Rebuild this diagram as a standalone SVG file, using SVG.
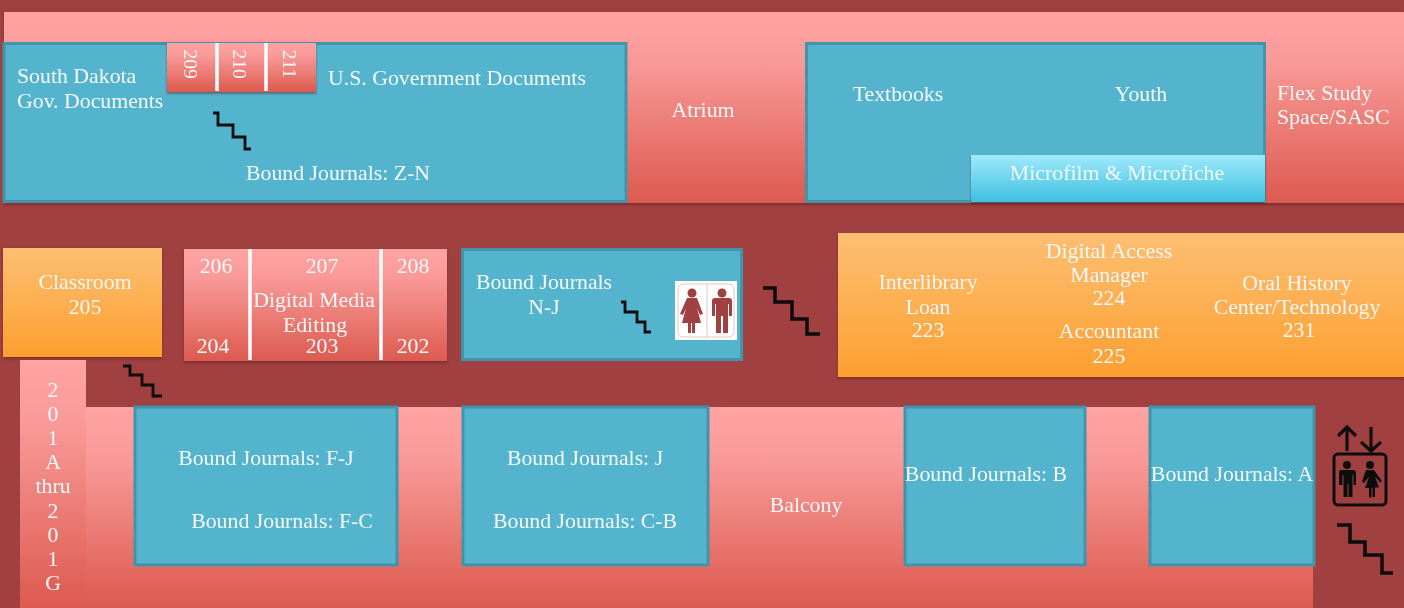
<svg xmlns="http://www.w3.org/2000/svg" width="1404" height="608" viewBox="0 0 1404 608">
<style>
text{font-family:"Liberation Serif","Times New Roman",serif;font-size:21.8px;fill:#f4f8f8;text-anchor:middle}
.l{text-anchor:start}
.v{font-size:19.500px}
.t{fill:#54b4cd;stroke:#4394ab;stroke-width:3}
.s{fill:none;stroke:#0c0c0c;stroke-width:3.500}
.n{fill:none;stroke:#0c0c0c;stroke-width:2.800}
.sep{stroke:#fff;stroke-width:3.500}
.ic{fill:#101010}
.up{filter:url(#sh)}
</style>
<defs>
<linearGradient id="r" x1="0" y1="0" x2="0" y2="1"><stop offset="0" stop-color="#ffa3a3"/><stop offset=".25" stop-color="#f99a98"/><stop offset="1" stop-color="#dc5a4f"/></linearGradient>
<linearGradient id="o" x1="0" y1="0" x2="0" y2="1"><stop offset="0" stop-color="#fdbf72"/><stop offset="1" stop-color="#fd9f30"/></linearGradient>
<linearGradient id="b" x1="0" y1="0" x2="0" y2="1"><stop offset="0" stop-color="#9feafc"/><stop offset="1" stop-color="#3fbfdf"/></linearGradient>
<filter id="sh" x="-5%" y="-5%" width="110%" height="115%"><feDropShadow dx="0" dy="1.500" stdDeviation="1.200" flood-color="#5a1c1c" flood-opacity=".6"/></filter>
<filter id="soft" x="0" y="0" width="100%" height="100%"><feGaussianBlur stdDeviation="0.550"/></filter>
</defs>
<rect id="background" width="1404" height="608" fill="#a03f3f"/>
<g id="plan" filter="url(#soft)">
<rect width="1404" height="608" fill="#a03f3f"/>
<g id="upper-floor-band"><rect class="up" x="4" y="12" width="1400" height="191" fill="url(#r)"/></g>
<g id="balcony"><rect x="86" y="407" width="1227" height="201" fill="url(#r)"/><text x="806" y="512">Balcony</text></g>
<g id="atrium"><text x="703" y="117">Atrium</text></g>
<g id="flex-study"><text class="l" x="1277" y="100">Flex Study</text><text class="l" x="1277" y="124">Space/SASC</text></g>
<g id="gov-docs">
<rect class="t" x="4" y="43.500" width="622" height="158"/>
<text class="l" x="17" y="83">South Dakota</text><text class="l" x="17" y="108">Gov. Documents</text>
<text class="l" x="328" y="85">U.S. Government Documents</text>
<text x="338" y="180">Bound Journals: Z-N</text>
</g>
<g id="rooms-209-211">
<rect class="up" x="167" y="43" width="149" height="49" fill="url(#r)"/>
<line class="sep" x1="217" y1="43" x2="217" y2="91"/><line class="sep" x1="266" y1="43" x2="266" y2="91"/>
<text class="v" transform="translate(184 64) rotate(90)">209</text>
<text class="v" transform="translate(233 64) rotate(90)">210</text>
<text class="v" transform="translate(283 64) rotate(90)">211</text>
</g>
<g id="textbooks-youth">
<rect class="t" x="806.500" y="43.500" width="458" height="158"/>
<text x="898" y="101">Textbooks</text><text x="1141" y="101">Youth</text>
</g>
<g id="microfilm"><rect class="up" x="971" y="155" width="294" height="47" fill="url(#b)"/><text x="1117" y="180">Microfilm &amp; Microfiche</text></g>
<g id="classroom"><rect class="up" x="3" y="248" width="159" height="109" fill="url(#o)"/><text x="85" y="289">Classroom</text><text x="85" y="314">205</text></g>
<g id="digital-media">
<rect class="up" x="184" y="249" width="263" height="112" fill="url(#r)"/>
<line class="sep" x1="250" y1="249" x2="250" y2="360"/><line class="sep" x1="381" y1="249" x2="381" y2="360"/>
<text x="216" y="273">206</text><text x="322" y="273">207</text><text x="413" y="273">208</text>
<text x="314" y="307">Digital Media</text><text x="315" y="332">Editing</text>
<text x="213" y="353">204</text><text x="322" y="353">203</text><text x="413" y="353">202</text>
</g>
<g id="journals-n-j">
<rect class="t" x="462.500" y="249.500" width="279" height="110"/>
<text x="544" y="289">Bound Journals</text><text x="544" y="314">N-J</text>
</g>
<g id="restrooms">
<rect x="675" y="281" width="62" height="59" fill="#fff"/>
<rect x="678" y="284" width="56" height="53" rx="5" fill="none" stroke="#e6c8c8"/>
<line x1="707" y1="283" x2="707" y2="338" stroke="#e6c8c8"/>
<g fill="#a03f3f">
<circle cx="692" cy="293" r="4.500"/><path d="M687 298h10l6 16-3 1-3-7 4 15h-6v10h-3v-10h-1v10h-3v-10h-6l4-15-3 7-3-1z"/>
<circle cx="722" cy="293" r="4.500"/><path d="M715 298h14q3 0 3 3v15h-3v-12h-1v29h-5v-17h-2v17h-5v-29h-1v12h-3v-15q0-3 3-3z"/>
</g>
</g>
<g id="offices">
<rect class="up" x="838" y="233" width="566" height="144" fill="url(#o)"/>
<text x="928" y="289">Interlibrary</text><text x="928" y="314">Loan</text><text x="928" y="337">223</text>
<text x="1109" y="258">Digital Access</text><text x="1109" y="282">Manager</text><text x="1109" y="305">224</text>
<text x="1109" y="338">Accountant</text><text x="1109" y="363">225</text>
<text x="1297" y="290">Oral History</text><text x="1297" y="314">Center/Technology</text><text x="1299" y="337">231</text>
</g>
<g id="rooms-201">
<rect x="20" y="360" width="66" height="248" fill="url(#r)"/>
<text x="53" y="397">2</text><text x="53" y="421">0</text><text x="53" y="445">1</text><text x="53" y="469">A</text><text x="53" y="493">thru</text><text x="53" y="518">2</text><text x="53" y="542">0</text><text x="53" y="566">1</text><text x="53" y="590">G</text>
</g>
<g id="journals-f"><rect class="t" x="135" y="407" width="262" height="158"/><text x="266" y="465">Bound Journals: F-J</text><text x="282" y="528">Bound Journals: F-C</text></g>
<g id="journals-j-c"><rect class="t" x="463" y="407" width="245" height="158"/><text x="585" y="465">Bound Journals: J</text><text x="585" y="528">Bound Journals: C-B</text></g>
<g id="journals-b"><rect class="t" x="905" y="407" width="180" height="158"/><text x="986" y="481">Bound Journals: B</text></g>
<g id="journals-a"><rect class="t" x="1150" y="407" width="164" height="158"/><text x="1232" y="481">Bound Journals: A</text></g>
<g id="elevator">
<rect x="1334" y="454" width="52" height="51" rx="4" fill="none" stroke="#101010" stroke-width="3"/>
<path d="M1347 451v-24M1338 436l9-9 9 9M1371 427v24M1361 442l10 9 10-9" fill="none" stroke="#101010" stroke-width="3.200"/>
<circle class="ic" cx="1347" cy="465" r="4"/><path class="ic" d="M1341 470h12q3 0 3 3v12h-2.500v-10h-1v22h-4v-13h-1v13h-4v-22h-1v10H1339v-12q0-3 2-3z"/>
<circle class="ic" cx="1370" cy="465" r="4"/><path class="ic" d="M1366 470h8l8 11-2 1.500-5-6 4 11h-4v9.500h-2.500V488h-1v9.500H1369V488h-4l4-11-5 6-2-1.500z"/>
</g>
<g id="stairs">
<path class="n" d="M213 113h5v12h15v12h12v12h6"/>
<path class="n" d="M621 302h4v10h12v10h8v10h6"/>
<path class="s" d="M763 288h12v14h17v17h15v15h13"/>
<path class="n" d="M123 366h7v9h12v10h11v11h9"/>
<path class="s" d="M1337 525h13v17h15v13h17v18h11"/>
</g>
</g>
</svg>
